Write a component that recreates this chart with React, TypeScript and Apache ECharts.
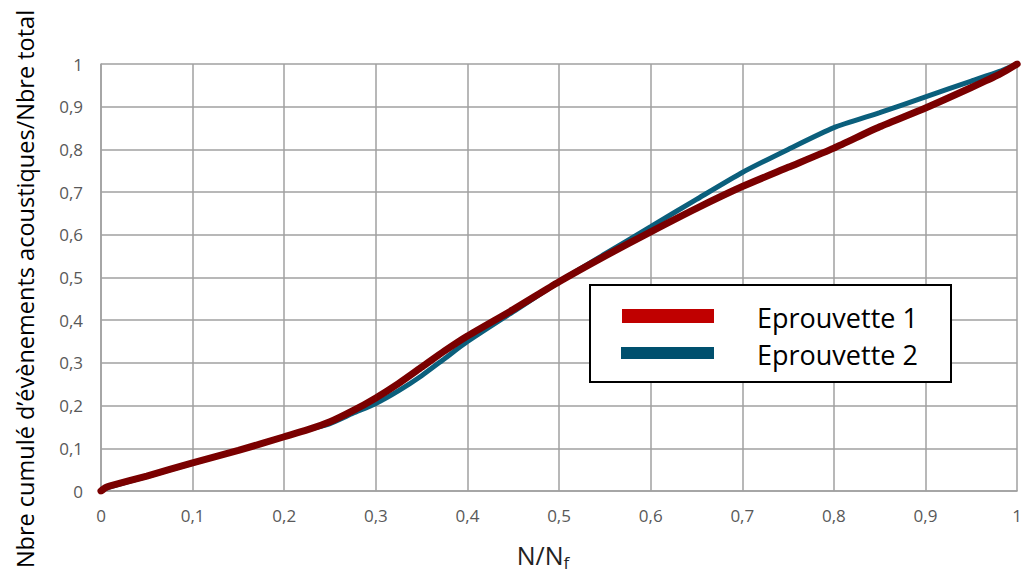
import React, { useEffect, useRef } from "react";
import * as echarts from "echarts";

// N/Nf sample positions
const xValues = [0, 0.005, 0.01, 0.05, 0.1, 0.15, 0.2, 0.225, 0.25, 0.275, 0.3, 0.325, 0.35, 0.375, 0.4, 0.45, 0.5, 0.55, 0.6, 0.65, 0.7, 0.75, 0.8, 0.85, 0.9, 0.95, 0.98, 1];
// Eprouvette 1 (red)
const eprouvette1 = [0, 0.008, 0.012, 0.035, 0.066, 0.095, 0.127, 0.143, 0.162, 0.188, 0.218, 0.252, 0.29, 0.328, 0.363, 0.425, 0.49, 0.55, 0.607, 0.662, 0.713, 0.758, 0.803, 0.853, 0.897, 0.945, 0.975, 1];
// Eprouvette 2 (blue)
const eprouvette2 = [0, 0.006, 0.01, 0.034, 0.065, 0.095, 0.127, 0.143, 0.158, 0.182, 0.205, 0.235, 0.27, 0.31, 0.35, 0.42, 0.49, 0.555, 0.619, 0.683, 0.746, 0.8, 0.851, 0.886, 0.923, 0.96, 0.982, 1];

const seriesNames = ["Eprouvette 1", "Eprouvette 2"];
const yTitle = "Nbre cumulé d’évènements acoustiques/Nbre total";

const FONT = "'Open Sans', sans-serif";

const fmt = (v: number) => String(Math.round(v * 10) / 10).replace(".", ",");

export default function App() {
  const ref = useRef<HTMLDivElement>(null);
  useEffect(() => {
    if (!ref.current) return;
    const chart = echarts.init(ref.current, undefined, { renderer: "svg" });
    const pairs = (ys: number[]) => xValues.map((x, i) => [x, ys[i]]);
    chart.setOption({
      animation: false,
      backgroundColor: "#fff",
      grid: { left: 101, right: 5, top: 64, bottom: 81 },
      xAxis: {
        type: "value",
        min: 0,
        max: 1,
        interval: 0.1,
        axisLine: { show: true, lineStyle: { color: "#a0a0a0", width: 1.5 } },
        axisTick: { show: false },
        splitLine: { show: true, lineStyle: { color: "#a0a0a0", width: 1.5 } },
        axisLabel: { formatter: fmt, color: "#595959", fontSize: 17, fontFamily: FONT, margin: 16 },
      },
      yAxis: {
        type: "value",
        min: 0,
        max: 1,
        interval: 0.1,
        axisLine: { show: true, lineStyle: { color: "#a0a0a0", width: 1.5 } },
        axisTick: { show: false },
        splitLine: { show: true, lineStyle: { color: "#a0a0a0", width: 1.5 } },
        axisLabel: { formatter: fmt, color: "#595959", fontSize: 17, fontFamily: FONT, margin: 18 },
      },
      series: [
        {
          name: seriesNames[1],
          type: "line",
          data: pairs(eprouvette2),
          showSymbol: false,
          smooth: 0.2,
          lineStyle: { color: "#0b5f7c", width: 5, cap: "round" },
          z: 2,
        },
        {
          name: seriesNames[0],
          type: "line",
          data: pairs(eprouvette1),
          showSymbol: false,
          smooth: 0.2,
          lineStyle: { color: "#7a0000", width: 7, cap: "round" },
          z: 3,
        },
      ],
      graphic: [
        {
          type: "text",
          x: 25,
          y: 289,
          rotation: Math.PI / 2,
          style: {
            text: yTitle,
            fontSize: 23.5,
            fontFamily: FONT,
            fill: "#000",
            textAlign: "center",
            textVerticalAlign: "middle",
          },
        },
        {
          type: "text",
          x: 543,
          y: 555,
          style: {
            text: "N/N{s|f}",
            fontSize: 25,
            fontFamily: FONT,
            fill: "#222",
            textAlign: "center",
            textVerticalAlign: "middle",
            rich: {
              s: { fontSize: 17, fontFamily: FONT, fill: "#222", padding: [14, 0, 0, 0] },
            },
          },
        },
        {
          type: "rect",
          z: 100,
          shape: { x: 590, y: 285, width: 361, height: 97 },
          style: { fill: "#fff", stroke: "#000", lineWidth: 2 },
        },
        {
          type: "rect",
          z: 101,
          shape: { x: 622, y: 309, width: 92, height: 14 },
          style: { fill: "#c00000" },
        },
        {
          type: "rect",
          z: 101,
          shape: { x: 621, y: 347, width: 93, height: 12 },
          style: { fill: "#00506e" },
        },
        {
          type: "text",
          z: 101,
          x: 757,
          y: 317,
          style: { text: seriesNames[0], fontSize: 27, fontFamily: FONT, fill: "#000", textVerticalAlign: "middle" },
        },
        {
          type: "text",
          z: 101,
          x: 757,
          y: 354,
          style: { text: seriesNames[1], fontSize: 27, fontFamily: FONT, fill: "#000", textVerticalAlign: "middle" },
        },
      ],
    });
    return () => chart.dispose();
  }, []);
  return <div ref={ref} style={{ position: "absolute", left: 0, top: 0, width: 1025, height: 572 }} />;
}
